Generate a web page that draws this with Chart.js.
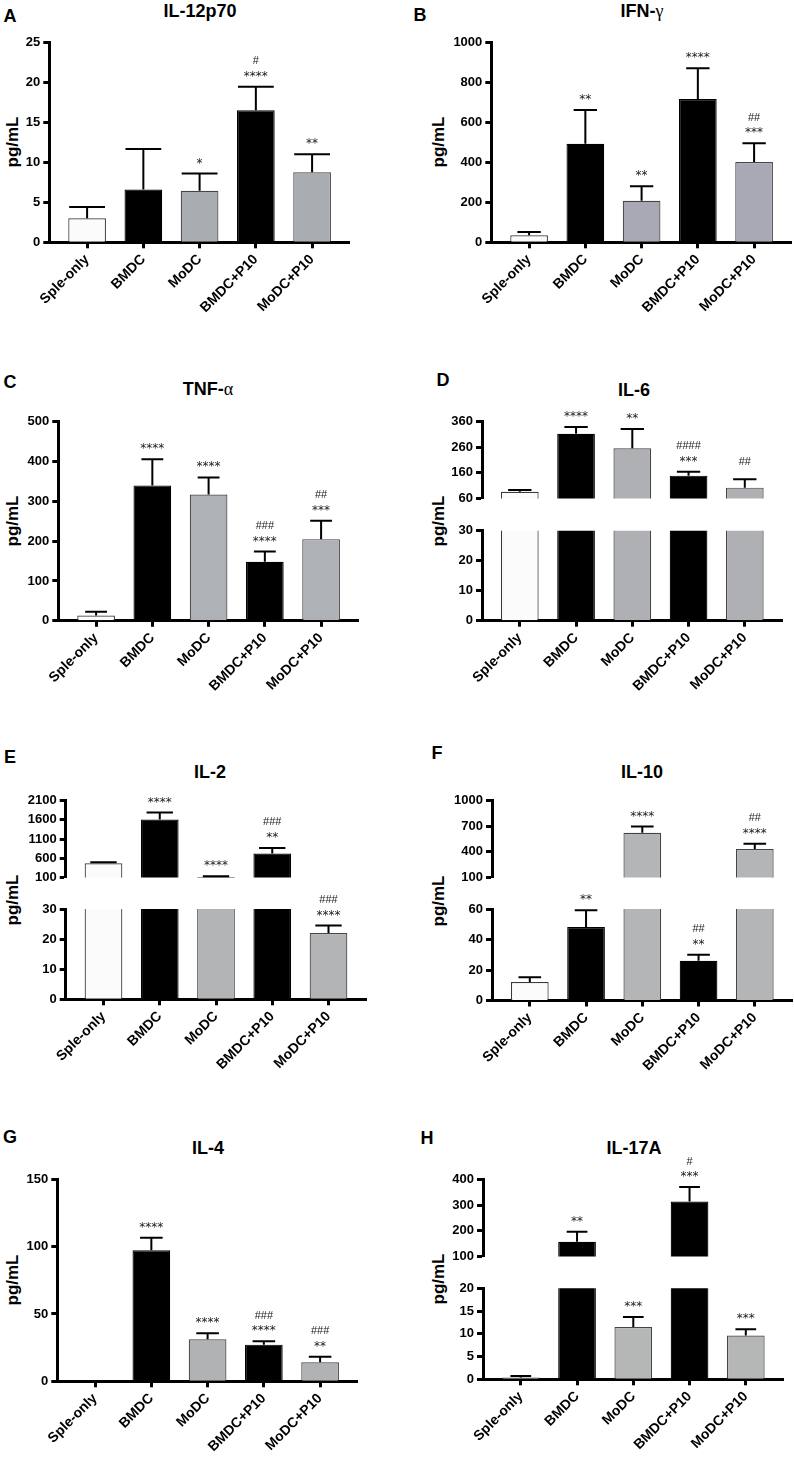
<!DOCTYPE html>
<html><head><meta charset="utf-8">
<script src="https://cdn.jsdelivr.net/npm/chart.js@4.4.0/dist/chart.umd.min.js"></script>
<style>
html,body{margin:0;padding:0;background:#fff;overflow:hidden;}
body{width:794px;height:1457px;position:relative;font-family:'Liberation Sans',Arial,sans-serif;}
canvas{position:absolute;}
.lbl{position:absolute;font-weight:bold;color:#000;white-space:nowrap;transform:translate(-50%,-50%);line-height:1;}
.gk{font-family:'Liberation Serif','DejaVu Serif',serif;font-weight:normal;}
.ytitle{position:absolute;font-weight:bold;font-size:17px;white-space:nowrap;line-height:1;transform:translate(-50%,-50%) rotate(-90deg);}
</style></head><body>
<script>
const categories = ["Sple-only", "BMDC", "MoDC", "BMDC+P10", "MoDC+P10"];

// A  IL-12p70
const il12Mean = [3.0, 6.6, 6.45, 16.5, 8.75];
const il12Err = [1.4, 5.05, 2.15, 2.95, 2.25];
const il12Stars = ["", "", "*", "****", "**"];
const il12Hash = ["", "", "", "#", ""];
const il12Ticks = [0, 5, 10, 15, 20, 25];
// B  IFN-gamma
const ifngMean = [35, 493, 208, 716, 401];
const ifngErr = [16, 168, 72, 154, 94];
const ifngStars = ["", "**", "**", "****", "***"];
const ifngHash = ["", "", "", "", "##"];
const ifngTicks = [0, 200, 400, 600, 800, 1000];
// C  TNF-alpha
const tnfMean = [13, 340, 317, 148, 205];
const tnfErr = [10, 66, 43, 26, 46];
const tnfStars = ["", "****", "****", "****", "***"];
const tnfHash = ["", "", "", "###", "##"];
const tnfTicks = [0, 100, 200, 300, 400, 500];
// D  IL-6
const il6Mean = [86, 313, 256, 149, 102];
const il6Err = [7, 26, 75, 15.5, 33];
const il6Stars = ["", "****", "**", "***", ""];
const il6Hash = ["", "", "", "####", "##"];
const il6TicksTop = [60, 160, 260, 360];
const il6TicksBottom = [0, 10, 20, 30];
// E  IL-2
const il2Mean = [467, 1610, 110, 724, 22.0];
const il2Err = [29, 182, 20, 145, 2.5];
const il2Stars = ["", "****", "****", "**", "****"];
const il2Hash = ["", "", "", "###", "###"];
const il2TicksTop = [100, 600, 1100, 1600, 2100];
const il2TicksBottom = [0, 10, 20, 30];
// F  IL-10
const il10Mean = [12.1, 48.2, 624, 26.1, 433];
const il10Err = [3.1, 10.9, 73, 3.9, 63];
const il10Stars = ["", "**", "****", "**", "****"];
const il10Hash = ["", "", "", "##", "##"];
const il10TicksTop = [100, 400, 700, 1000];
const il10TicksBottom = [0, 20, 40, 60];
// G  IL-4
const il4Mean = [0, 97.3, 31.2, 27.2, 14.1];
const il4Err = [0, 9.3, 4.4, 2.5, 4.2];
const il4Stars = ["", "****", "****", "****", "**"];
const il4Hash = ["", "", "", "###", "###"];
const il4Ticks = [0, 50, 100, 150];
// H  IL-17A
const il17Mean = [0.4, 157, 11.5, 313.5, 9.6];
const il17Err = [0.35, 39, 2.2, 56.5, 1.4];
const il17Stars = ["", "**", "***", "***", "***"];
const il17Hash = ["", "", "", "#", ""];
const il17TicksTop = [100, 200, 300, 400];
const il17TicksBottom = [0, 5, 10, 15, 20];

const panels = [
 {id:'A', title:'IL-12p70', x0:0, axisX:49.3, letter:[10,15.5], tXY:[200,11],
  mean:il12Mean, err:il12Err, stars:il12Stars, hash:il12Hash, grey:'#a9adb2', cap:0.95,
  segs:[{min:0,max:25,ticks:il12Ticks,top:42.3,bottom:242.3}]},
 {id:'B', title:'IFN-', greek:'γ', x0:397, axisX:491.3, letter:[420,15], tXY:[642,11],
  mean:ifngMean, err:ifngErr, stars:ifngStars, hash:ifngHash, grey:'#a9a9b6', cap:0.62,
  segs:[{min:0,max:1000,ticks:ifngTicks,top:42.3,bottom:242.3}]},
 {id:'C', title:'TNF-', greek:'α', x0:0, axisX:58.3, letter:[10,382], tXY:[208,389],
  mean:tnfMean, err:tnfErr, stars:tnfStars, hash:tnfHash, grey:'#aeb1b5', cap:0.58,
  segs:[{min:0,max:500,ticks:tnfTicks,top:421.7,bottom:620.8}]},
 {id:'D', title:'IL-6', x0:397, axisX:482, letter:[443,380], tXY:[634,390],
  mean:il6Mean, err:il6Err, stars:il6Stars, hash:il6Hash, grey:'#aeb0b4', cap:0.62,
  segs:[{min:60,max:360,ticks:il6TicksTop,top:421.7,bottom:512.7},
        {min:0,max:30,ticks:il6TicksBottom,top:530.7,bottom:620.7}]},
 {id:'E', title:'IL-2', x0:0, axisX:65.7, letter:[10,757], tXY:[210,772],
  mean:il2Mean, err:il2Err, stars:il2Stars, hash:il2Hash, grey:'#b3b4b6', cap:0.7,
  segs:[{min:100,max:2100,ticks:il2TicksTop,top:800.7,bottom:891.7},
        {min:0,max:30,ticks:il2TicksBottom,top:909,bottom:999.3}]},
 {id:'F', title:'IL-10', x0:397, axisX:492, letter:[437,753], tXY:[642,772],
  mean:il10Mean, err:il10Err, stars:il10Stars, hash:il10Hash, grey:'#b4b5b7', cap:0.6,
  segs:[{min:100,max:1000,ticks:il10TicksTop,top:800.7,bottom:891.7},
        {min:0,max:60,ticks:il10TicksBottom,top:909,bottom:1000.5}]},
 {id:'G', title:'IL-4', x0:0, axisX:57.3, letter:[10,1137], tXY:[208,1148],
  mean:il4Mean, err:il4Err, stars:il4Stars, hash:il4Hash, grey:'#b0b2b4', cap:0.6,
  segs:[{min:0,max:150,ticks:il4Ticks,top:1179.3,bottom:1381.3}]},
 {id:'H', title:'IL-17A', x0:397, axisX:483, letter:[427,1138], tXY:[634,1148],
  mean:il17Mean, err:il17Err, stars:il17Stars, hash:il17Hash, grey:'#b5b7b7', cap:0.55,
  segs:[{min:100,max:400,ticks:il17TicksTop,top:1179.3,bottom:1270.7},
        {min:0,max:20,ticks:il17TicksBottom,top:1288.3,bottom:1379.3}]}
];

Chart.defaults.font.family = "'Liberation Sans', Arial, sans-serif";
Chart.defaults.color = '#000';

const XMIN = -0.672, XMAX = 4.672, PLOT_W = 300.6;

function addLabel(cls, text, x, y, size, greek) {
  const d = document.createElement('div');
  d.className = cls;
  d.style.left = x + 'px'; d.style.top = y + 'px';
  if (size) d.style.fontSize = size + 'px';
  d.textContent = text;
  if (greek) { const s = document.createElement('span'); s.className = 'gk'; s.textContent = greek; d.appendChild(s); }
  document.body.appendChild(d);
}

function makeSeg(p, seg, hasX) {
  const pad = 30;
  const cTop = Math.floor(seg.top - pad);
  const padTop = seg.top - cTop;
  const yW = p.axisX - p.x0;
  const cW = Math.ceil(yW + PLOT_W + 3);
  const padRight = cW - (yW + PLOT_W);
  const areaBottom = seg.bottom - cTop;
  const cH = hasX ? Math.ceil(areaBottom + 95) : Math.ceil(areaBottom + 14);
  const xH = cH - areaBottom;
  const cv = document.createElement('canvas');
  cv.width = cW; cv.height = cH;
  cv.style.left = p.x0 + 'px'; cv.style.top = cTop + 'px';
  cv.style.width = cW + 'px'; cv.style.height = cH + 'px';
  document.body.appendChild(cv);

  const colors = ['#fcfbfc', '#000000', p.grey, '#000000', p.grey];
  const borders = ['#3a3a3a', '#000000', '#444444', '#000000', '#444444'];

  const errPlugin = {
    id: 'errbars' + p.id,
    afterDatasetsDraw(chart) {
      const ctx = chart.ctx, ys = chart.scales.y;
      const meta = chart.getDatasetMeta(0);
      ctx.save();
      meta.data.forEach((bar, i) => {
        const v = p.mean[i], e = p.err[i];
        if (v < seg.min || v > seg.max) return;
        const x = bar.x, w = bar.width;
        const yv = ys.getPixelForValue(v);
        let capY = yv;
        if (e > 0) {
          const ye = ys.getPixelForValue(v + e);
          capY = ye;
          ctx.strokeStyle = '#000'; ctx.lineWidth = 2; ctx.lineCap = 'butt';
          ctx.beginPath();
          ctx.moveTo(x, yv); ctx.lineTo(x, ye);
          const cw = w * p.cap / 2;
          ctx.moveTo(x - cw, ye); ctx.lineTo(x + cw, ye);
          ctx.stroke();
        }
        ctx.fillStyle = '#1a1a1a';
        ctx.textAlign = 'center'; ctx.textBaseline = 'alphabetic';
        const st = p.stars[i], hs = p.hash[i];
        if (st) {
          ctx.font = '12px "DejaVu Sans"';
          ctx.fillText(st, x, capY - 7);
        }
        if (hs) {
          ctx.font = '11px "Liberation Sans"';
          ctx.fillText(hs, x, st ? capY - 22.5 : capY - 14);
        }
      });
      ctx.restore();
    }
  };

  new Chart(cv, {
    type: 'bar',
    data: {
      datasets: [{
        data: p.mean.map((v, i) => ({x: i, y: v})),
        backgroundColor: colors,
        borderColor: borders,
        borderWidth: 1.2,
        borderSkipped: 'start',
        categoryPercentage: 1,
        barPercentage: 0.67,
        clip: 0
      }]
    },
    options: {
      responsive: false,
      animation: false,
      events: [],
      layout: {padding: {top: padTop, left: 0, right: padRight, bottom: hasX ? 0 : cH - areaBottom}},
      plugins: {legend: {display: false}, tooltip: {enabled: false}, title: {display: false}},
      scales: {
        x: {
          type: 'linear',
          display: hasX,
          offset: false,
          min: XMIN, max: XMAX,
          afterBuildTicks: s => { s.ticks = categories.map((c, i) => ({value: i})); },
          afterFit: s => { s.height = xH; },
          grid: {display: true, offset: false, drawOnChartArea: false, drawTicks: true, tickLength: 6, tickWidth: 3, tickColor: '#000'},
          border: {display: true, color: '#000', width: 3},
          ticks: {
            autoSkip: false, minRotation: 45, maxRotation: 45, padding: 3,
            font: {size: 14, weight: 'bold'}, color: '#000',
            callback: v => categories[v]
          }
        },
        y: {
          type: 'linear',
          min: seg.min, max: seg.max,
          afterBuildTicks: s => { s.ticks = seg.ticks.map(v => ({value: v})); },
          afterFit: s => { s.width = yW; },
          grid: {display: true, drawOnChartArea: false, drawTicks: true, tickLength: 6, tickWidth: 3, tickColor: '#000'},
          border: {display: true, color: '#000', width: 3},
          ticks: {
            autoSkip: false, padding: 3,
            font: {size: 13, weight: 'bold'}, color: '#000',
            callback: v => String(v)
          }
        }
      }
    },
    plugins: [errPlugin]
  });
}

panels.forEach(p => {
  addLabel('lbl', p.id, p.letter[0], p.letter[1], 18);
  addLabel('lbl', p.title, p.tXY[0], p.tXY[1], 18, p.greek);
  const yMid = (p.segs[0].top + p.segs[p.segs.length - 1].bottom) / 2;
  addLabel('ytitle', 'pg/mL', p.x0 + (p.x0 === 0 ? 12 : 41), yMid);
  p.segs.forEach((seg, k) => makeSeg(p, seg, k === p.segs.length - 1));
});
</script>
</body></html>
